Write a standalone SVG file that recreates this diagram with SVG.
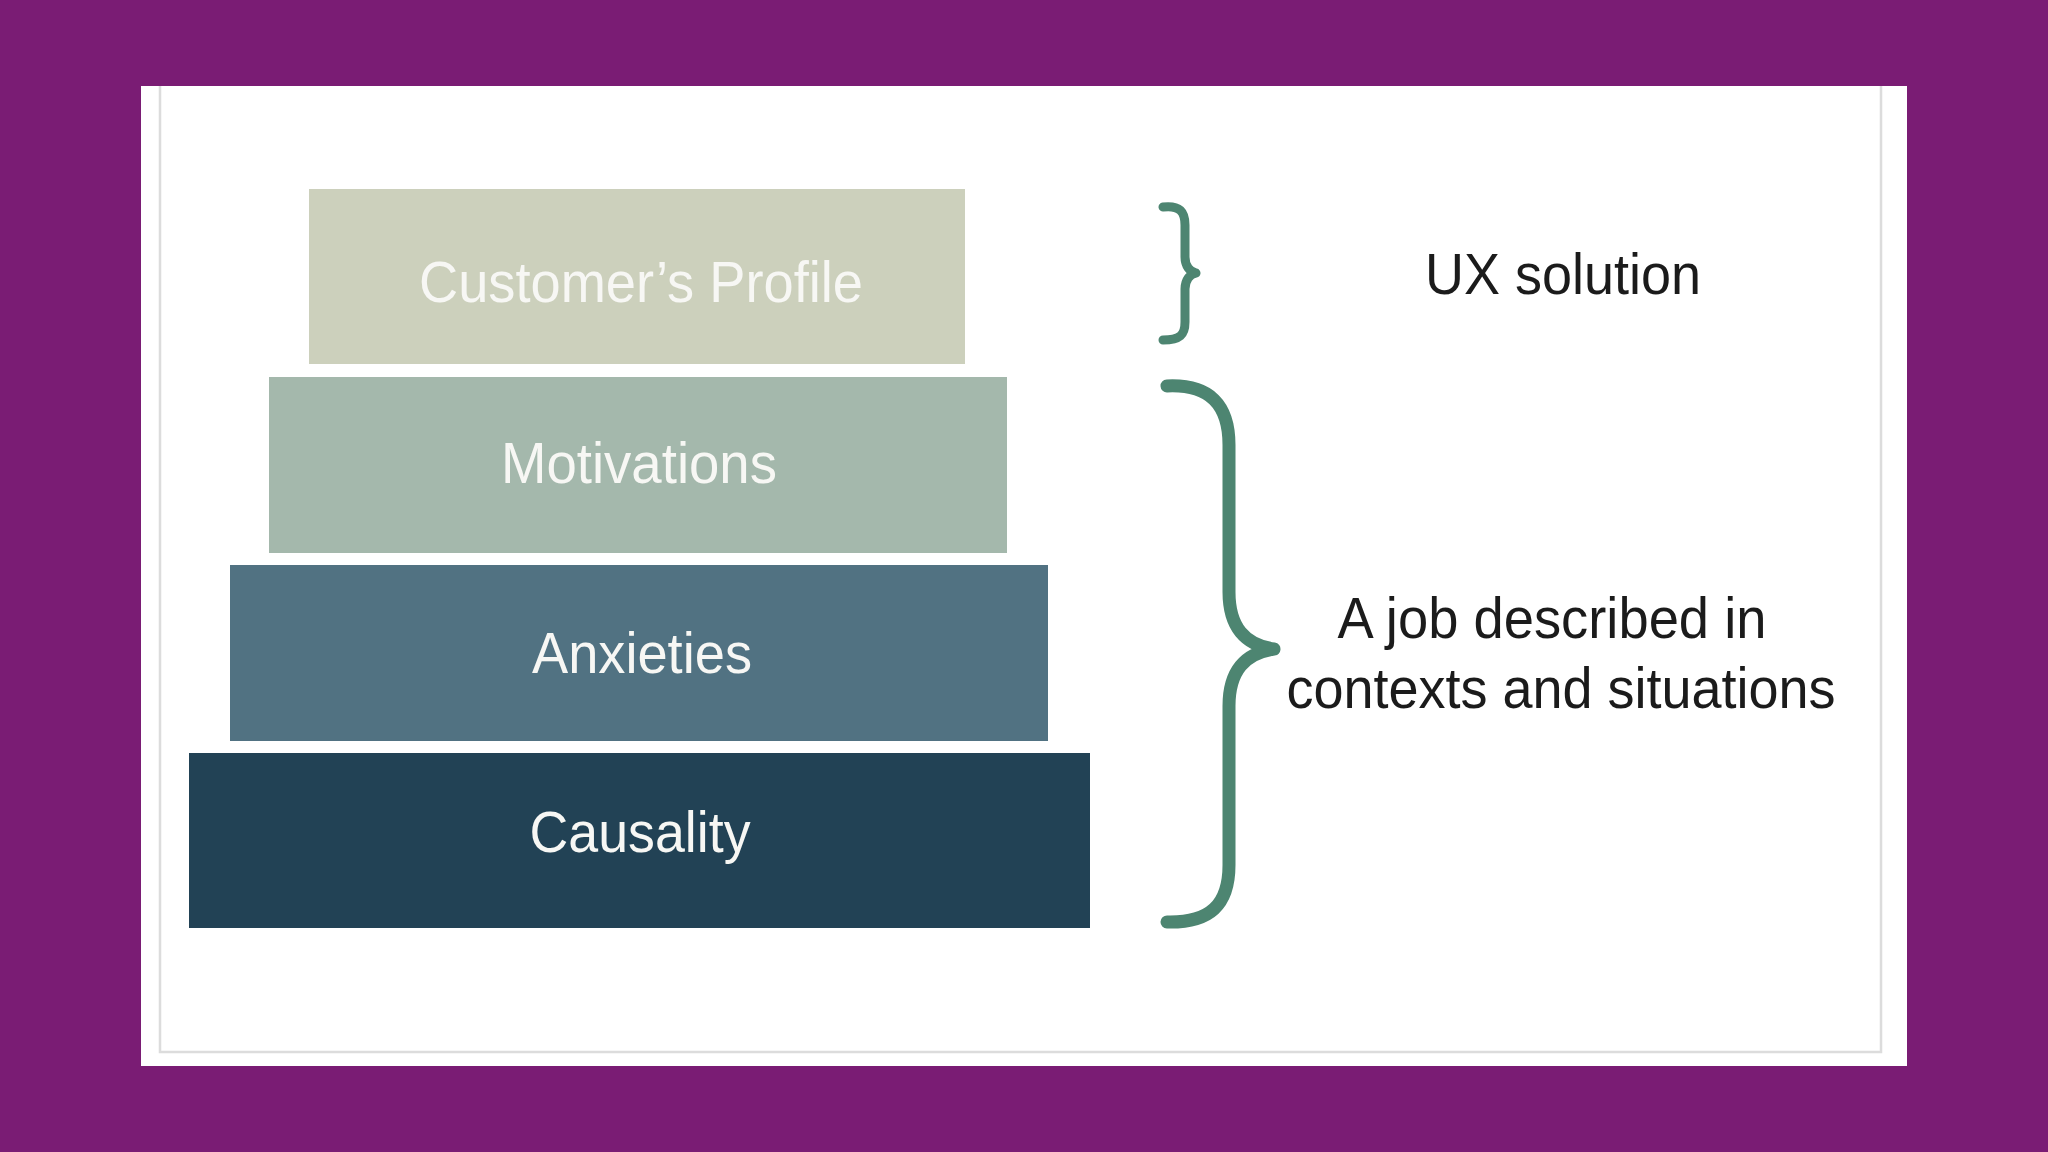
<svg xmlns="http://www.w3.org/2000/svg" width="2048" height="1152" viewBox="0 0 2048 1152">
<style>
.lbl{font-family:"Liberation Sans",Arial,sans-serif;font-size:57px;text-anchor:middle}
.box-t{fill:#f7f7f4}
.side{fill:#1b1b1b}
.brace{fill:none;stroke:#4d8571;stroke-linecap:round;stroke-linejoin:round}
</style>
<rect x="0" y="0" width="2048" height="1152" fill="#7a1c74"/>
<rect x="141" y="86" width="1766" height="980" fill="#ffffff"/>
<path d="M160,86 L160,1052 L1881,1052 L1881,86" fill="none" stroke="#dcdcdc" stroke-width="2.5"/>
<g id="customers-profile">
<rect x="309" y="189" width="656" height="175" fill="#ccd0bc"/>
<text class="lbl box-t" x="641" y="302" textLength="444" lengthAdjust="spacingAndGlyphs">Customer’s Profile</text>
</g>
<g id="motivations">
<rect x="269" y="377" width="738" height="176" fill="#a4b8ac"/>
<text class="lbl box-t" x="639" y="483" textLength="276" lengthAdjust="spacingAndGlyphs">Motivations</text>
</g>
<g id="anxieties">
<rect x="230" y="565" width="818" height="176" fill="#517282"/>
<text class="lbl box-t" x="642" y="673" textLength="220" lengthAdjust="spacingAndGlyphs">Anxieties</text>
</g>
<g id="causality">
<rect x="189" y="753" width="901" height="175" fill="#224255"/>
<text class="lbl box-t" x="640" y="852" textLength="221" lengthAdjust="spacingAndGlyphs">Causality</text>
</g>
<g id="connectors">
<path class="brace" stroke-width="9" d="M1163,207 C1180,205 1185,212 1185,225 L1185,257 C1185,266 1190,272 1196,273 C1190,274 1185,280 1185,289 L1185,322 C1185,335 1180,340 1163,340"/>
<path class="brace" stroke-width="13" d="M1167,386 C1210,384 1229,405 1229,445 L1229,592 C1229,627 1245,645 1274,649 C1245,653 1229,671 1229,706 L1229,865 C1229,905 1210,923 1167,922"/>
</g>
<g id="ux-solution">
<text class="lbl side" x="1563" y="294" textLength="276" lengthAdjust="spacingAndGlyphs">UX solution</text>
</g>
<g id="job-label">
<text class="lbl side" x="1552" y="638" textLength="429" lengthAdjust="spacingAndGlyphs">A job described in</text>
<text class="lbl side" x="1561" y="708" textLength="549" lengthAdjust="spacingAndGlyphs">contexts and situations</text>
</g>
</svg>
